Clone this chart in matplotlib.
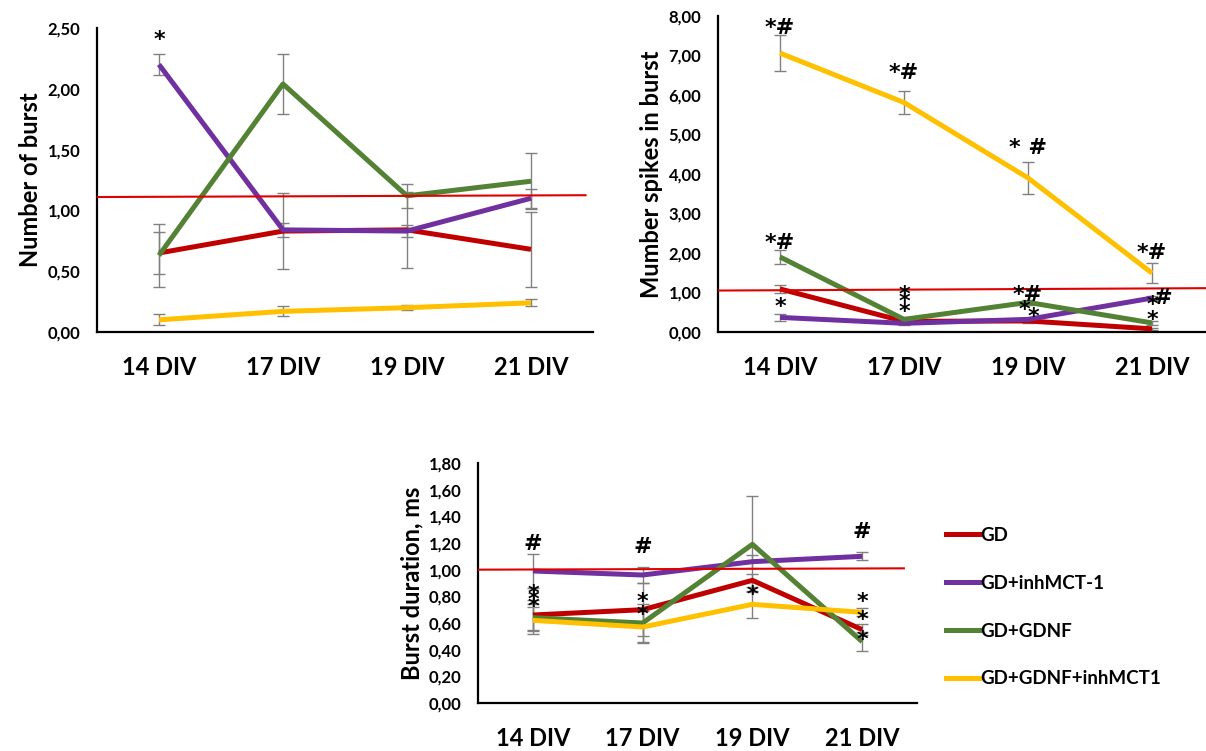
import matplotlib
matplotlib.use("Agg")
import matplotlib.pyplot as plt

plt.rcParams['font.family'] = ['Lato', 'DejaVu Sans']
plt.rcParams['font.weight'] = 'bold'

days = ["14 DIV", "17 DIV", "19 DIV", "21 DIV"]
groups = ["GD", "GD+inhMCT-1", "GD+GDNF", "GD+GDNF+inhMCT1"]
colors = ["#C00000", "#7030A0", "#548235", "#FFC000"]

# panel 1: number of burst
burst_n = [
    [0.65, 0.83, 0.84, 0.68],
    [2.20, 0.84, 0.83, 1.10],
    [0.63, 2.04, 1.12, 1.24],
    [0.10, 0.17, 0.20, 0.24],
]
burst_n_err = [
    [0.17, 0.31, 0.31, 0.31],
    [0.09, 0.06, 0.05, 0.08],
    [0.26, 0.25, 0.10, 0.23],
    [0.045, 0.04, 0.02, 0.03],
]
burst_n_ref = [1.11, 1.125]

# panel 2: spikes in burst
spikes = [
    [1.09, 0.27, 0.28, 0.08],
    [0.37, 0.22, 0.32, 0.86],
    [1.90, 0.32, 0.75, 0.23],
    [7.06, 5.81, 3.90, 1.49],
]
spikes_err = [
    [0.09, 0.05, 0.04, 0.03],
    [0.09, 0.05, 0.04, 0.05],
    [0.18, 0.06, 0.06, 0.05],
    [0.45, 0.30, 0.40, 0.25],
]
spikes_ref = [1.05, 1.11]

# panel 3: burst duration
duration = [
    [0.66, 0.70, 0.92, 0.55],
    [0.99, 0.96, 1.06, 1.10],
    [0.64, 0.60, 1.19, 0.46],
    [0.62, 0.57, 0.74, 0.68],
]
duration_err = [
    [0.11, 0.20, 0.05, 0.04],
    [0.13, 0.06, 0.05, 0.03],
    [0.10, 0.14, 0.36, 0.07],
    [0.10, 0.12, 0.10, 0.03],
]
duration_ref = [1.00, 1.01]

# significance marks: (x position, y value, text)
marks1 = [(0, 2.40, "*")]
marks2 = [
    (0, 7.70, "*#"), (0, 2.25, "*#"), (0, 0.63, "*"),
    (1, 6.56, "*#"), (1, 0.94, "*"), (1, 0.76, "*"), (1, 0.51, "*"),
    (2, 4.66, "* #"), (2, 0.94, "*#"), (1.97, 0.56, "*"), (2.04, 0.38, "*"),
    (3, 2.00, "*#"), (3.09, 0.86, "#"), (3, 0.68, "*"), (3, 0.30, "*"),
]
marks3 = [
    (0, 1.19, "#"), (0, 0.82, "*"), (0, 0.77, "*"), (0, 0.72, "*"),
    (1, 1.17, "#"), (1, 0.76, "*"), (1, 0.66, "*"),
    (2, 0.81, "*"),
    (3, 1.28, "#"), (3, 0.76, "*"), (3, 0.62, "*"), (3, 0.47, "*"),
]


def fmt(v):
    return f"{v:.2f}".replace(".", ",")


def draw_panel(ax, values, errs, ref, ref_x, ymax, ystep, ylabel, marks, xmax=3.5):
    x = list(range(len(days)))
    for vals, err in zip(values, errs):
        ax.errorbar(x, vals, yerr=err, fmt="none", ecolor="#808080",
                    elinewidth=1.0, capsize=4, capthick=1.0, zorder=2)
    for vals, col in zip(values, colors):
        ax.plot(x, vals, color=col, lw=3.6, solid_capstyle="butt", zorder=3)
    ax.plot(ref_x, ref, color="#E00000", lw=1.5, zorder=4)
    for mx, my, txt in marks:
        ax.text(mx, my, txt, ha="center", va="center", fontsize=16,
                fontweight="bold", family=["DejaVu Sans"], zorder=5)
    ax.set_xlim(-0.5, xmax)
    ax.set_ylim(0, ymax)
    ticks = [i * ystep for i in range(int(round(ymax / ystep)) + 1)]
    ax.set_yticks(ticks)
    ax.set_yticklabels([fmt(t) for t in ticks], fontsize=12, fontweight="bold")
    ax.set_xticks(x)
    ax.set_xticklabels(days, fontsize=17, fontweight="bold")
    ax.tick_params(axis="both", length=0)
    ax.tick_params(axis="x", pad=17)
    ax.tick_params(axis="y", pad=12)
    ax.set_ylabel(ylabel, fontsize=17, fontweight="bold", labelpad=4)
    for s in ["top", "right"]:
        ax.spines[s].set_visible(False)
    for s in ["left", "bottom"]:
        ax.spines[s].set_linewidth(1.6)
        ax.spines[s].set_color("black")


fig = plt.figure(figsize=(12.06, 7.51), dpi=100)
ax1 = fig.add_axes([0.0804, 0.5579, 0.4113, 0.4048])
ax2 = fig.add_axes([0.5954, 0.5579, 0.4046, 0.4208])
ax3 = fig.add_axes([0.3964, 0.0639, 0.3640, 0.3196])

draw_panel(ax1, burst_n, burst_n_err, burst_n_ref, [-0.5, 3.44], 2.5, 0.5,
           "Number of burst", marks1)
draw_panel(ax2, spikes, spikes_err, spikes_ref, [-0.5, 3.435], 8.0, 1.0,
           "Mumber spikes in burst", marks2, xmax=3.435)
draw_panel(ax3, duration, duration_err, duration_ref, [-0.5, 3.38], 1.8, 0.2,
           "Burst duration, ms", marks3)

handles = [plt.Line2D([], [], color=c, lw=3.6) for c in colors]
fig.legend(handles, groups, loc="center left", bbox_to_anchor=(0.7844, 0.1917),
           frameon=False, handlelength=1.75, handletextpad=0.1,
           labelspacing=1.65, borderpad=0, borderaxespad=0,
           prop={"weight": "bold", "size": 13.5})

fig.savefig("out.png", dpi=100)
